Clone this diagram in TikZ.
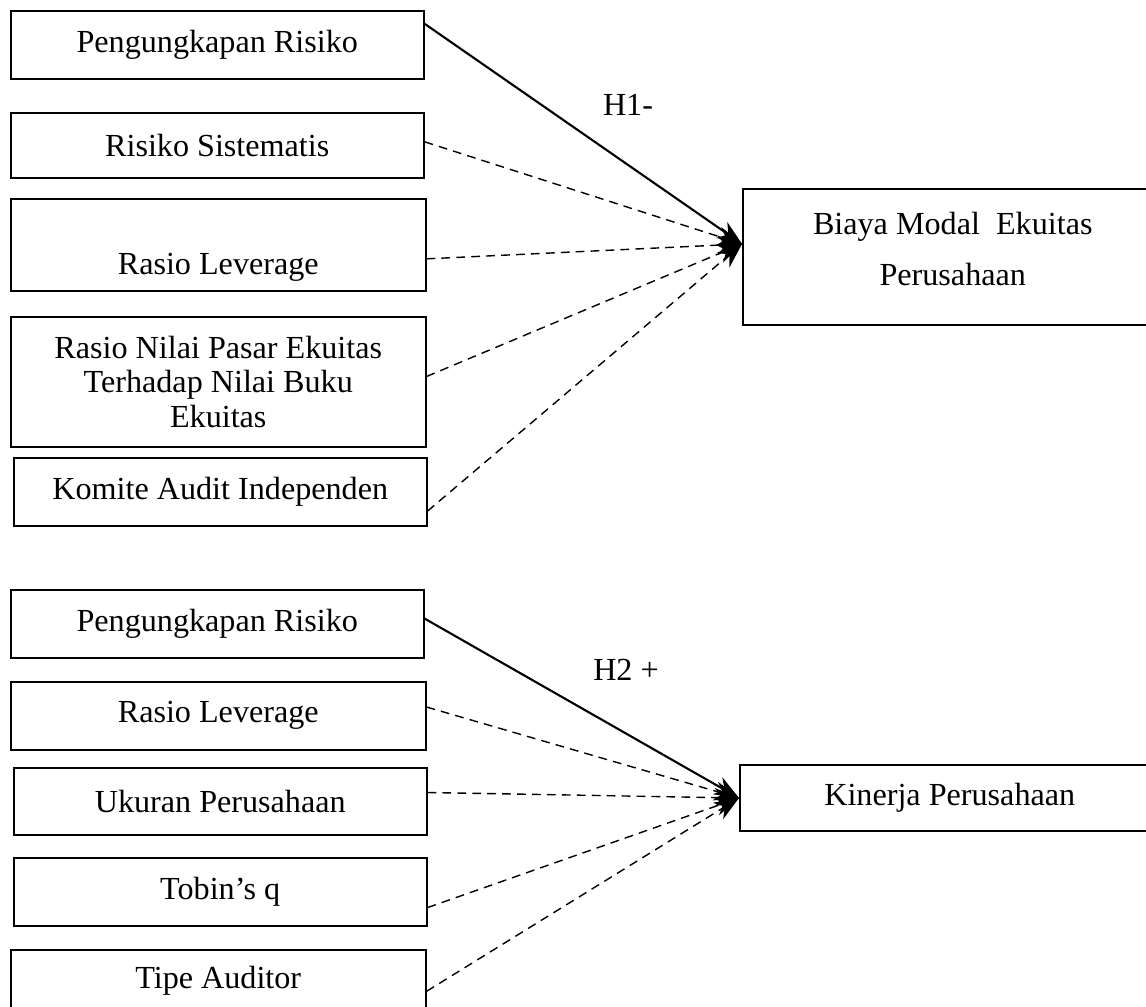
\documentclass[tikz,border=0pt]{standalone}
\usepackage{fontspec}
\setmainfont{Liberation Serif}
\usetikzlibrary{arrows.meta}
\newcommand{\boxfont}{\fontsize{18.3}{19.5}\selectfont}
\tikzset{
  varbox/.style={draw, line width=0.9pt, anchor=north west, inner sep=0pt, align=center,
    font=\boxfont},
  solidarr/.style={line width=1.2pt, -{Stealth[length=14pt,width=11pt]}},
  dasharr/.style={line width=0.8pt, dash pattern=on 5pt off 3.5pt, -{Stealth[length=14pt,width=11pt]}},
  hyplabel/.style={font=\boxfont}
}
\begin{document}
\begin{tikzpicture}[x=0.02cm,y=-0.02cm]
\useasboundingbox (0,0) rectangle (1146,1007);
\node[varbox, minimum width=8.26cm, minimum height=1.36cm] (pr1) at (10,10) {Pengungkapan Risiko};
\node[varbox, minimum width=8.26cm, minimum height=1.30cm] (rs) at (10,112) {Risiko Sistematis};
\node[varbox, minimum width=8.30cm, minimum height=1.84cm] (rl1) at (10,198) {\rule{0pt}{38pt}Rasio Leverage};
\node[varbox, minimum width=8.30cm, minimum height=2.60cm] (rnp) at (10,316) {Rasio Nilai Pasar Ekuitas\\Terhadap Nilai Buku\\Ekuitas};
\node[varbox, minimum width=8.26cm, minimum height=1.36cm] (kai) at (13,457) {Komite Audit Independen};
\node[varbox, minimum width=8.40cm, minimum height=2.72cm] (bme) at (742,188) {Biaya Modal~ Ekuitas\\[10pt]Perusahaan\rule[-9pt]{0pt}{9pt}};
\coordinate (tipa) at (742,244);
\node[hyplabel] (h1) at (628,105) {H1-};
\draw[solidarr] ([yshift=12pt]pr1.east) -- (tipa);
\draw[dasharr] ([yshift=2pt]rs.east) -- (tipa);
\draw[dasharr] ([yshift=-8pt]rl1.east) -- (tipa);
\draw[dasharr] ([yshift=3pt]rnp.east) -- (tipa);
\draw[dasharr] ([yshift=-11pt]kai.east) -- (tipa);
\node[varbox, minimum width=8.26cm, minimum height=1.36cm] (pr2) at (10,589) {Pengungkapan Risiko};
\node[varbox, minimum width=8.30cm, minimum height=1.36cm] (rl2) at (10,681) {Rasio Leverage};
\node[varbox, minimum width=8.26cm, minimum height=1.34cm] (up) at (13,767) {Ukuran Perusahaan};
\node[varbox, minimum width=8.26cm, minimum height=1.36cm] (tq) at (13,857) {Tobin’s q};
\node[varbox, minimum width=8.30cm, minimum height=1.24cm] (ta) at (10,949) {Tipe Auditor};
\node[varbox, minimum width=8.40cm, minimum height=1.32cm] (kp) at (739,764) {Kinerja Perusahaan};
\coordinate (tipb) at (739,798);
\node[hyplabel] (h2) at (626,670) {H2 +};
\draw[solidarr] ([yshift=3pt]pr2.east) -- (tipb);
\draw[dasharr] ([yshift=5pt]rl2.east) -- (tipb);
\draw[dasharr] ([yshift=5pt]up.east) -- (tipb);
\draw[dasharr] ([yshift=-9pt]tq.east) -- (tipb);
\draw[dasharr] ([yshift=-6pt]ta.east) -- (tipb);
\end{tikzpicture}
\end{document}
